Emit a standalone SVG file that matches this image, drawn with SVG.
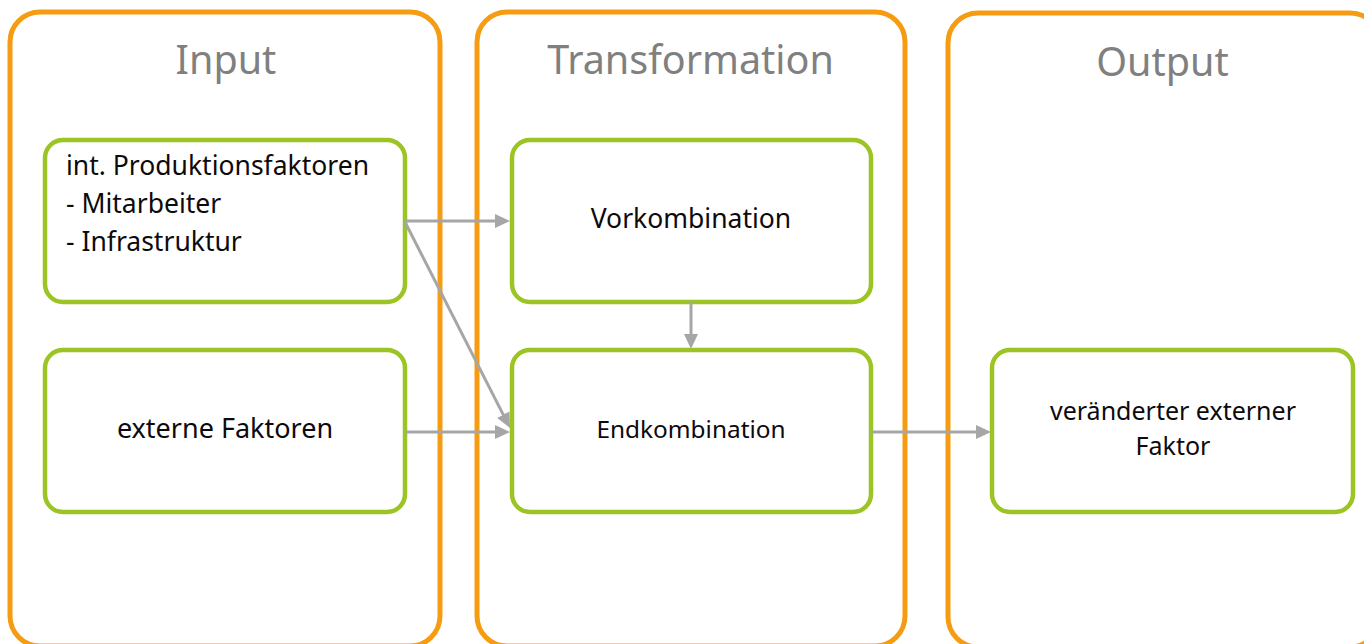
<svg xmlns="http://www.w3.org/2000/svg" width="1364" height="644" viewBox="0 0 1364 644">
  <defs>
    <style>
      .panel { fill: #ffffff; stroke: #F59C12; stroke-width: 5; }
      .node { fill: #ffffff; stroke: #9BC424; stroke-width: 4.5; }
      .title { font-family: "Noto Sans", "Open Sans", sans-serif; font-size: 39.5px; fill: #808080; text-anchor: middle; }
      .label { font-family: "Noto Sans", "Open Sans", sans-serif; font-size: 26.5px; fill: #0d0a0d; }
      .mid { text-anchor: middle; }
      .edge { fill: none; stroke: #A6A6A6; stroke-width: 3; marker-end: url(#head); }
    </style>
    <marker id="head" markerUnits="userSpaceOnUse" markerWidth="16" markerHeight="15" refX="7" refY="7" orient="auto">
      <path d="M0,0 L15,7 L0,14 Z" fill="#A6A6A6"/>
    </marker>
  </defs>

  <rect width="1364" height="644" fill="#ffffff"/>

  <!-- stage panels -->
  <g id="panel-input">
    <rect class="panel" x="10" y="12" width="430" height="634" rx="30"/>
    <text class="title" x="226" y="74">Input</text>
  </g>
  <g id="panel-transformation">
    <rect class="panel" x="477" y="12" width="428" height="634" rx="30"/>
    <text class="title" x="690.5" y="74">Transformation</text>
  </g>
  <g id="panel-output">
    <rect class="panel" x="948" y="13" width="432" height="634" rx="30"/>
    <text class="title" x="1162.5" y="76">Output</text>
  </g>

  <!-- nodes -->
  <g id="node-int-faktoren">
    <rect class="node" x="45" y="140" width="360" height="162" rx="18"/>
    <text class="label" x="66" y="175">int. Produktionsfaktoren</text>
    <text class="label" x="66" y="213">- Mitarbeiter</text>
    <text class="label" x="66" y="251">- Infrastruktur</text>
  </g>
  <g id="node-externe-faktoren">
    <rect class="node" x="45" y="350" width="360" height="162" rx="18"/>
    <text class="label mid" x="225" y="438" style="font-size:27px">externe Faktoren</text>
  </g>
  <g id="node-vorkombination">
    <rect class="node" x="512" y="140" width="359" height="162" rx="18"/>
    <text class="label mid" x="691" y="227.5">Vorkombination</text>
  </g>
  <g id="node-endkombination">
    <rect class="node" x="512" y="350" width="359" height="162" rx="18"/>
    <text class="label mid" x="691" y="437.5" style="font-size:24.4px">Endkombination</text>
  </g>
  <g id="node-output-faktor">
    <rect class="node" x="992" y="350" width="361" height="162" rx="18"/>
    <text class="label mid" x="1173" y="420" style="font-size:25px">veränderter externer</text>
    <text class="label mid" x="1173" y="455" style="font-size:25px">Faktor</text>
  </g>

  <!-- connectors -->
  <g id="connectors">
    <line class="edge" x1="405" y1="221" x2="502" y2="221"/>
    <line class="edge" x1="405" y1="222" x2="506.4" y2="420.9"/>
    <line class="edge" x1="405" y1="432" x2="502" y2="432"/>
    <line class="edge" x1="691" y1="302" x2="691" y2="341"/>
    <line class="edge" x1="871" y1="432" x2="983" y2="432"/>
  </g>
</svg>
